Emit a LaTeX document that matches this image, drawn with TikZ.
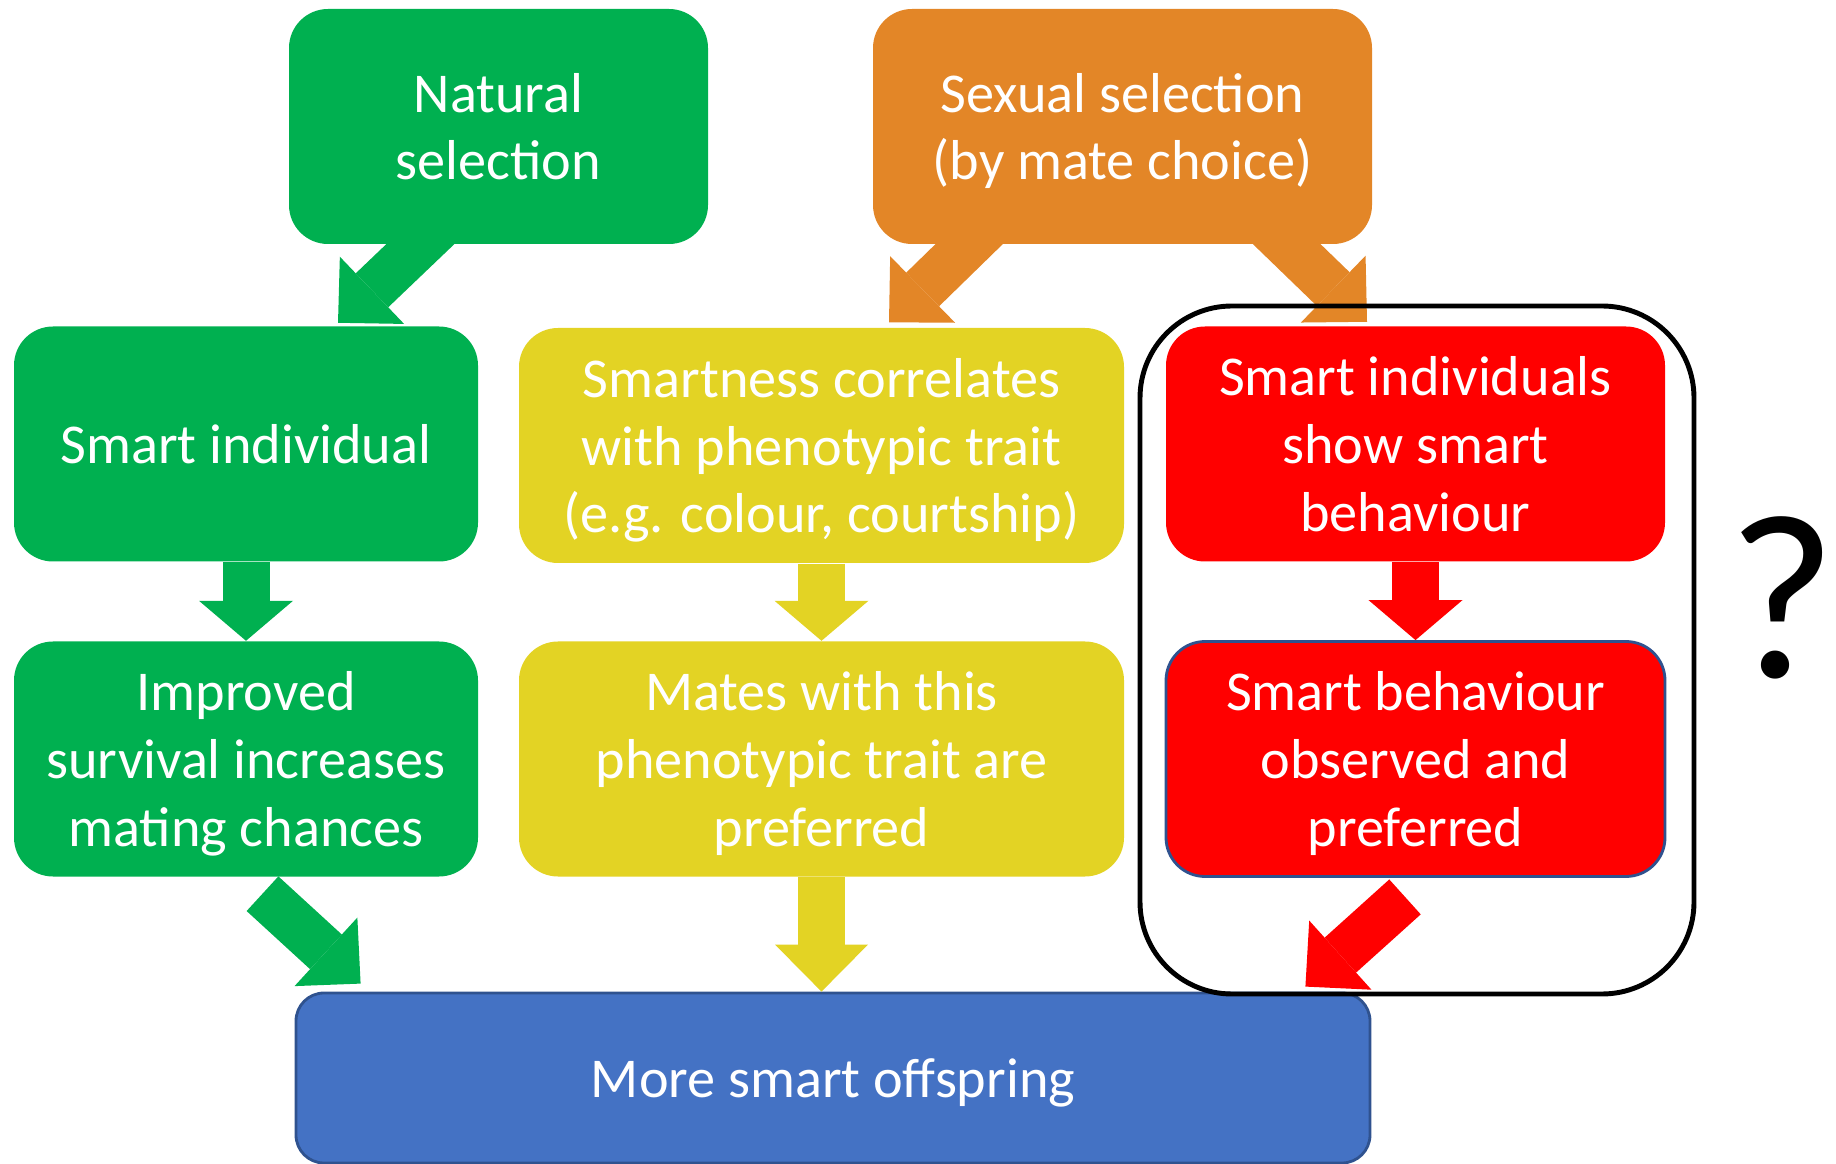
\documentclass[tikz,border=0pt]{standalone}
\usepackage{fontspec}
\setmainfont{Carlito}
\usetikzlibrary{arrows.meta,backgrounds}
\definecolor{natgreen}{HTML}{00B050}
\definecolor{sexorange}{HTML}{E38627}
\definecolor{traityellow}{HTML}{E3D324}
\definecolor{smartred}{HTML}{FF0000}
\definecolor{offblue}{HTML}{4472C4}
\definecolor{edgeblue}{HTML}{2F528F}
\begin{document}
\begin{tikzpicture}[
    box/.style={rounded corners=0.39cm, text=white, align=center, inner sep=0pt, text depth=0pt,
        font=\fontsize{16}{19.3}\selectfont, minimum height=2.35cm},
    blockarrow/.style={line width=0.47cm, -{Triangle[length=0.47cm,width=0.93cm,line width=0pt]}},
    downarrow/.style={line width=0.47cm, -{Triangle[length=0.40cm,width=0.94cm,line width=0pt]}}
]
            \useasboundingbox (0,0) rectangle (18.36,-11.64);
            \node[box,fill=natgreen,minimum width=4.19cm] (nat) at (4.985,-1.265) {Natural\\selection};
            \node[box,fill=sexorange,minimum width=4.99cm] (sex) at (11.225,-1.265) {Sexual selection\\(by mate choice)};
            \node[box,fill=natgreen,minimum width=4.64cm] (smart) at (2.46,-4.44) {Smart individual};
            \node[box,fill=traityellow,minimum width=6.05cm] (corr) at (8.215,-4.455) {Smartness correlates\\with phenotypic trait\\(e.g. colour, courtship)};
            \node[box,fill=smartred,minimum width=4.99cm] (show) at (14.155,-4.44) {Smart individuals\\show smart\\behaviour};
            \node[box,fill=natgreen,minimum width=4.64cm] (surv) at (2.46,-7.59) {Improved\\survival increases\\mating chances};
            \node[box,fill=traityellow,minimum width=6.05cm] (mates) at (8.215,-7.59) {Mates with this\\phenotypic trait are\\preferred};
            \node[box,fill=smartred,draw=edgeblue,line width=0.8pt,minimum width=4.99cm] (obs) at (14.155,-7.59) {Smart behaviour\\observed and\\preferred};
            \node[box,fill=offblue,draw=edgeblue,line width=0.8pt,rounded corners=0.28cm,minimum width=10.74cm,minimum height=1.70cm] (off) at (8.33,-10.78) {More smart offspring};
            \node[draw=black,line width=1.4pt,rounded corners=0.92cm,minimum width=5.54cm,minimum height=6.88cm] (grp) at (14.17,-6.50) {};
            \node[font=\fontsize{67}{80}\selectfont] (qm) at (17.82,-5.98) {?};
            \begin{pgfonlayer}{background}
            \draw[natgreen,blockarrow] ([shift={(-0.385,0.385)}]nat.south) -- ([shift={(0.92,0.03)}]smart.north);
            \draw[sexorange,blockarrow] ([shift={(-1.145,0.385)}]sex.south) -- ([shift={(0.675,0.05)}]corr.north);
            \draw[sexorange,blockarrow] ([shift={(1.245,0.39)}]sex.south) -- ([shift={(-0.485,0.04)}]show.north);
            \end{pgfonlayer}
            \draw[natgreen,downarrow] (smart.south) -- (surv.north);
            \draw[traityellow,downarrow] (corr.south) -- (mates.north);
            \draw[smartred,downarrow] (show.south) -- (obs.north);
            \draw[natgreen,blockarrow] ([shift={(0.165,-0.165)}]surv.south) -- ([shift={(0.66,0.08)}]off.north west);
            \draw[traityellow,blockarrow] (mates.south) -- (mates.south |- off.north);
            \draw[smartred,blockarrow] ([shift={(-0.105,-0.19)}]obs.south) -- ([shift={(-0.66,0.05)}]off.north east);
        \end{tikzpicture}
\end{document}
